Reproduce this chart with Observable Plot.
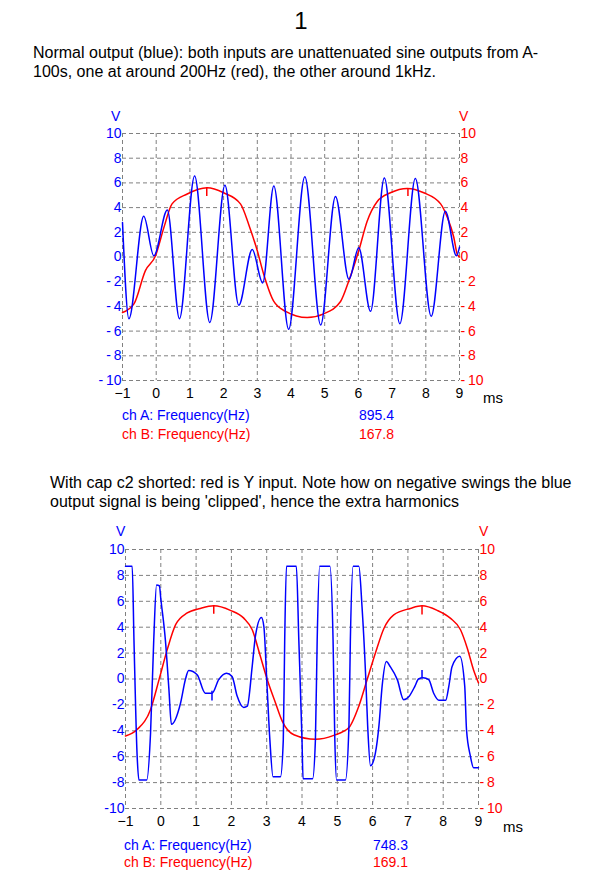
<!DOCTYPE html>
<html><head><meta charset="utf-8">
<script src="https://cdn.jsdelivr.net/npm/d3@7"></script>
<script src="https://cdn.jsdelivr.net/npm/@observablehq/plot@0.6"></script>
<style>
html,body{margin:0;padding:0;background:#fff;}
body{width:608px;height:885px;position:relative;overflow:hidden;font-family:"Liberation Sans",Arial,sans-serif;color:#000;}
.abs{position:absolute;white-space:nowrap;line-height:1;}
.plotwrap{position:absolute;left:0;}
</style></head><body>
<script>
// ---------- tick labels ----------
const msTicks = [-1, 0, 1, 2, 3, 4, 5, 6, 7, 8, 9];
const voltTicks = [-10, -8, -6, -4, -2, 0, 2, 4, 6, 8, 10];

// ---------- chart 1: normal output ----------
const c1BlueT = [-1, -0.81, -0.37, -0.07, 0.33, 0.69, 1.14, 1.59, 2.04, 2.45, 2.85, 3.16, 3.49, 3.93, 4.41, 4.88, 5.32, 5.72, 6.01, 6.36, 6.77, 7.23, 7.69, 8.16, 8.58, 8.91, 9];
const c1BlueV = [2.8, -5.0, 3.3, 0.1, 3.8, -5.0, 6.55, -5.3, 5.8, -3.9, 0.6, -2.1, 5.75, -5.85, 6.5, -5.5, 4.9, -1.8, 0.75, -4.4, 6.4, -5.4, 6.35, -4.8, 3.7, 0.1, 0.8];
const c1RedT = [-1, -0.66, -0.32, -0.02, 0.23, 0.47, 0.92, 1.51, 2.0, 2.5, 2.75, 3.0, 3.19, 3.49, 3.84, 4.48, 4.97, 5.47, 5.72, 6.01, 6.26, 6.56, 6.95, 7.45, 7.94, 8.44, 8.64, 8.83, 8.93, 9];
const c1RedV = [-4.5, -3.8, -1.1, 0.1, 2.4, 4.3, 5.1, 5.6, 5.2, 4.3, 2.6, 0.5, -1.4, -3.6, -4.4, -4.9, -4.6, -3.6, -1.9, 0.5, 2.9, 4.5, 5.2, 5.55, 5.2, 4.3, 3.2, 1.6, 0.25, 0.0];
const c1MarkT = [1.5, 7.47];
const c1MarkTop = [5.6, 5.55];
const c1MarkBottom = [4.9, 4.9];
const c1FreqLabels = ["ch A: Frequency(Hz)", "ch B: Frequency(Hz)"];
const c1FreqValues = ["895.4", "167.8"];

// ---------- chart 2: cap c2 shorted ----------
const c2BlueT = [-1, -0.81, -0.76, -0.67, -0.62, -0.40, -0.29, -0.2, -0.12, -0.04, 0.0, 0.13, 0.23, 0.3, 0.56, 0.7, 0.79, 1.03, 1.26, 1.45, 1.64, 1.86, 2.02, 2.16, 2.35, 2.45, 2.59, 2.68, 2.85, 2.92, 3.0, 3.09, 3.18, 3.39, 3.47, 3.51, 3.56, 3.84, 3.91, 4.0, 4.03, 4.3, 4.38, 4.43, 4.5, 4.79, 4.88, 4.93, 4.98, 5.23, 5.33, 5.37, 5.45, 5.61, 5.7, 5.8, 5.86, 5.94, 6.08, 6.18, 6.27, 6.39, 6.5, 6.7, 6.88, 7.03, 7.2, 7.3, 7.43, 7.59, 7.73, 7.88, 8.07, 8.16, 8.25, 8.47, 8.61, 8.66, 8.77, 8.86, 9];
const c2BlueV = [8.7, 8.7, 3, -5.95, -7.8, -7.8, -4.15, 3, 7.25, 7.2, 6.2, 3, -0.8, -3.5, -1.85, 0, 0.65, 0.33, -1.1, -1.1, -0.05, 0.45, 0.2, -1.3, -2.2, -2.1, 1.0, 3.3, 4.75, 4.05, 0, -4.7, -7.55, -7.55, -4.7, 3, 8.7, 8.7, 3, -4.7, -7.7, -7.7, -4.7, 3, 8.7, 8.7, 3, -4.7, -7.8, -7.8, -3.6, 3, 8.7, 8.7, 5.6, 0.45, -3.6, -6.7, -5.7, -3.6, -0.55, 1.35, 0.95, -0.05, -1.6, -1.35, -0.55, 0, 0.1, -0.05, -1.1, -1.65, -1.65, -0.55, 0.95, 1.75, -0.55, -3.9, -5.95, -6.85, -6.85];
const c2RedT = [-1, -0.67, -0.29, -0.05, 0.18, 0.42, 0.75, 1.12, 1.5, 1.97, 2.35, 2.59, 2.82, 3.01, 3.25, 3.44, 3.77, 4.38, 4.9, 5.33, 5.61, 5.85, 6.08, 6.32, 6.6, 7.07, 7.4, 7.83, 8.2, 8.49, 8.68, 8.86, 9];
const c2RedV = [-4.4, -3.9, -2.35, -0.05, 2.25, 4.2, 5.1, 5.45, 5.65, 5.3, 4.7, 3.8, 1.75, 0, -1.85, -3.25, -4.3, -4.65, -4.35, -3.75, -2.1, 0, 2.0, 3.9, 4.95, 5.45, 5.65, 5.3, 4.7, 3.8, 2.4, 0.7, -0.3];
const c2RedMarkT = [1.5, 7.4];
const c2RedMarkTop = [5.65, 5.65];
const c2RedMarkBottom = [5.0, 4.95];
const c2BlueMarkT = [1.45, 7.4];
const c2BlueMarkTop = [-0.95, 0.65];
const c2BlueMarkBottom = [-1.7, 0.05];
const c2FreqLabels = ["ch A: Frequency(Hz)", "ch B: Frequency(Hz)"];
const c2FreqValues = ["748.3", "169.1"];

// ---------- texts ----------
const titleText = "1";
const para1 = ["Normal output (blue): both inputs are unattenuated sine outputs from A-", "100s, one at around 200Hz (red), the other around 1kHz."];
const para2 = ["With cap c2 shorted: red is Y input. Note how on negative swings the blue", "output signal is being 'clipped', hence the extra harmonics"];

const BLUE = "#0000ff", RED = "#ff0000", GRID = "#808080";
const series = (ts, vs) => ts.map((t, i) => ({t, v: vs[i]}));
const marks = (ts, top, bot) => ts.map((t, i) => ({t, v1: top[i], v2: bot[i]}));

function addText(txt, left, top, size, color, extra) {
  const d = document.createElement("div");
  d.className = "abs";
  d.textContent = txt;
  d.style.left = left + "px";
  d.style.top = top + "px";
  d.style.fontSize = size + "px";
  d.style.color = color;
  if (extra) Object.assign(d.style, extra);
  document.body.appendChild(d);
  return d;
}

function chart({top, mL, mR, plotH, blue, red, markSets, leftFmt, rightFmt}) {
  const mT = 28, mB = 30;
  const p = Plot.plot({
    width: 608,
    height: mT + plotH + mB,
    marginTop: mT, marginBottom: mB, marginLeft: mL, marginRight: mR,
    style: {background: "transparent", fontFamily: "'Liberation Sans', Arial, sans-serif", overflow: "visible"},
    x: {domain: [-1, 9]},
    y: {domain: [-10, 10]},
    marks: [
      Plot.gridX({ticks: msTicks, stroke: GRID, strokeOpacity: 1, strokeDasharray: "4,3"}),
      Plot.gridY({ticks: voltTicks, stroke: GRID, strokeOpacity: 1, strokeDasharray: "4,3"}),
      Plot.axisX({ticks: msTicks, anchor: "bottom", tickSize: 0, tickPadding: 8, fontSize: 14, color: "#000", label: null}),
      Plot.axisY({ticks: voltTicks, anchor: "left", tickSize: 0, tickPadding: 1, fontSize: 14, color: BLUE, label: null, tickFormat: leftFmt}),
      Plot.axisY({ticks: voltTicks, anchor: "right", tickSize: 0, tickPadding: 1, fontSize: 14, color: RED, label: null, tickFormat: rightFmt}),
      Plot.line(red, {x: "t", y: "v", stroke: RED, strokeWidth: 1.5, curve: "monotone-x"}),
      Plot.line(blue, {x: "t", y: "v", stroke: BLUE, strokeWidth: 1.5, curve: "monotone-x"}),
      ...markSets.map(([data, col]) => Plot.ruleX(data, {x: "t", y1: "v1", y2: "v2", stroke: col, strokeWidth: 1.5}))
    ]
  });
  const w = document.createElement("div");
  w.className = "plotwrap";
  w.style.top = top + "px";
  w.appendChild(p);
  document.body.appendChild(w);
}

const spaced = d => d < 0 ? "-\u2009" + (-d) : String(d);
const tight = d => d < 0 ? "-" + (-d) : String(d);

// title + paragraph 1
addText(titleText, 0, 9, 24, "#000", {width: "602px", textAlign: "center"});
para1.forEach((s, i) => addText(s, 33, 45 + i * 19, 16, "#000"));

// chart 1
chart({top: 105, mL: 122, mR: 149, plotH: 247,
  blue: series(c1BlueT, c1BlueV), red: series(c1RedT, c1RedV),
  markSets: [[marks(c1MarkT, c1MarkTop, c1MarkBottom), RED]],
  leftFmt: spaced, rightFmt: spaced});
addText("V", 111, 109, 14, BLUE);
addText("V", 459, 109, 14, RED);
addText("ms", 483, 390, 15, "#000");
c1FreqLabels.forEach((s, i) => addText(s, 122, 408 + i * 19, 14, i ? RED : BLUE));
c1FreqValues.forEach((s, i) => addText(s, 359, 408 + i * 19, 14, i ? RED : BLUE));

// paragraph 2
para2.forEach((s, i) => addText(s, 50, 475 + i * 19, 16, "#000"));

// chart 2
chart({top: 521, mL: 125, mR: 130, plotH: 259,
  blue: series(c2BlueT, c2BlueV), red: series(c2RedT, c2RedV),
  markSets: [[marks(c2RedMarkT, c2RedMarkTop, c2RedMarkBottom), RED], [marks(c2BlueMarkT, c2BlueMarkTop, c2BlueMarkBottom), BLUE]],
  leftFmt: tight, rightFmt: spaced});
addText("V", 116, 524, 14, BLUE);
addText("V", 479, 524, 14, RED);
addText("ms", 503, 819, 15, "#000");
c2FreqLabels.forEach((s, i) => addText(s, 124, 838 + i * 17, 14, i ? RED : BLUE));
c2FreqValues.forEach((s, i) => addText(s, 373, 838 + i * 17, 14, i ? RED : BLUE));
</script>
</body></html>
